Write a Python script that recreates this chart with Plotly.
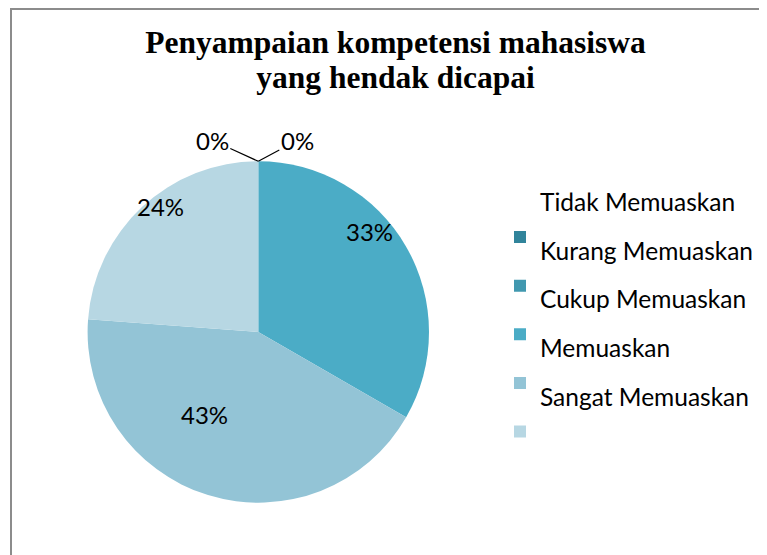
import math
import plotly.graph_objects as go

# ---- data ----
categories = ["Tidak Memuaskan", "Kurang Memuaskan", "Cukup Memuaskan", "Memuaskan", "Sangat Memuaskan"]
values = [0, 0, 14, 18, 10]
colors = ["#31849B", "#4198AF", "#4BACC6", "#93C4D6", "#B7D7E3"]
title_lines = ["Penyampaian kompetensi mahasiswa", "yang hendak dicapai"]

W, H = 767, 555
SANS = "Lato, 'Noto Sans', sans-serif"

# legend labels: in the original Excel legend each text sits above its swatch
legend_labels = [
    f"<span style='font-size:24.5px'>{c}</span><br> <br> " for c in categories
]

# pie geometry (figure pixels)
cx, cy, r = 250.3, 324.0, 170.7
dom_x = [(cx - r) / W, (cx + r) / W]
dom_y = [(H - cy - r) / H, (H - cy + r) / H]

def px_to_paper(x, y):
    return x / W, 1 - y / H

fig = go.Figure()
fig.add_trace(go.Pie(
    labels=legend_labels,
    values=values,
    sort=False,
    direction="clockwise",
    rotation=0,
    marker=dict(colors=colors, line=dict(width=0)),
    textinfo="none",
    domain=dict(x=dom_x, y=dom_y),
    hoverinfo="skip",
))

# percentage labels placed around each slice (Excel "best fit" style)
total = sum(values)
label_rfrac = [None, None, 0.88, 0.58, 0.93]
label_dang = [0, 0, -12, 16, 5]
annotations = []
cum = 0.0
zero_offsets = [(-46, -21), (39, -21)]
zi = 0
for i, v in enumerate(values):
    start = cum / total * 360
    cum += v
    end = cum / total * 360
    pct = f"{round(v / total * 100)}%"
    if v > 0:
        ang = math.radians((start + end) / 2 + label_dang[i])
        rr = label_rfrac[i] * r
        x, y = px_to_paper(cx + rr * math.sin(ang), cy - rr * math.cos(ang))
        annotations.append(dict(
            x=x, y=y, xref="paper", yref="paper", text=pct, showarrow=False,
            xanchor="center", yanchor="middle",
            font=dict(family=SANS, size=24, color="black"),
        ))
    else:
        ang = math.radians(start)
        x, y = px_to_paper(cx + r * math.sin(ang), cy - r * math.cos(ang))
        ax, ay = zero_offsets[zi % 2]
        zi += 1
        annotations.append(dict(
            x=x, y=y, xref="paper", yref="paper", text=pct, showarrow=True,
            ax=ax, ay=ay, arrowhead=0, arrowwidth=1.2, arrowcolor="black",
            standoff=0, startstandoff=0,
            font=dict(family=SANS, size=24, color="black"),
        ))

title_text = "<br>".join(f"<span style='font-size:31.5px'><b>{t}</b></span>" for t in title_lines)

fig.update_layout(
    width=W, height=H,
    margin=dict(l=0, r=0, t=0, b=0),
    paper_bgcolor="white",
    plot_bgcolor="white",
    title=dict(
        text=title_text,
        x=387.5 / W, xanchor="center",
        y=1 - 45 / H, yanchor="top",
        font=dict(family="'Liberation Serif', 'Times New Roman', serif", size=27, color="black"),
    ),
    legend=dict(
        x=492 / W, xanchor="left",
        y=1 - 184.5 / H, yanchor="top",
        valign="bottom",
        font=dict(family=SANS, size=11.7, color="black"),
        bgcolor="rgba(0,0,0,0)",
        traceorder="normal",
    ),
    annotations=annotations,
    shapes=[dict(
        type="rect", xref="paper", yref="paper",
        x0=3 / W, x1=1.02, y0=-0.02, y1=1 - 1 / H,
        line=dict(color="#8c8c8c", width=2),
        fillcolor="rgba(0,0,0,0)", layer="below",
    )],
)

fig.write_html("out.html")
